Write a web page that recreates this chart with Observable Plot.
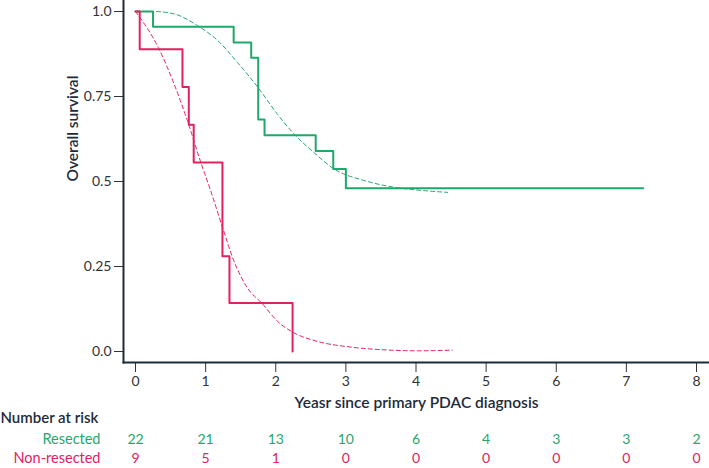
<!DOCTYPE html>
<html><head><meta charset="utf-8">
<script src="https://cdn.jsdelivr.net/npm/d3@7"></script>
<script src="https://cdn.jsdelivr.net/npm/@observablehq/plot@0.6"></script>
<style>body{margin:0;background:#fff}</style>
</head><body><div id="chart"></div>
<script>
// Kaplan-Meier steps (time in years, survival)
const resectedT = [0, 0.25, 1.40, 1.65, 1.75, 1.84, 2.57, 2.82, 3.00, 7.24];
const resectedS = [1.0, 0.955, 0.909, 0.864, 0.682, 0.636, 0.590, 0.537, 0.480, 0.480];
const nonResT = [0, 0.06, 0.67, 0.76, 0.83, 1.24, 1.34, 2.24];
const nonResS = [1.0, 0.889, 0.778, 0.667, 0.556, 0.280, 0.143, 0.0];
// Fitted (dashed) curves
const fitResT = [0, 0.26, 0.55, 0.88, 1.17, 1.45, 1.76, 2.02, 2.26, 2.54, 2.83, 3.26, 3.69, 4.07, 4.45];
const fitResS = [1.0, 1.0, 0.993, 0.959, 0.915, 0.851, 0.773, 0.699, 0.640, 0.586, 0.537, 0.503, 0.483, 0.474, 0.468];
const fitNonT = [0, 0.33, 0.55, 0.74, 0.93, 1.07, 1.24, 1.40, 1.59, 1.81, 2.04, 2.24, 2.59, 3.07, 3.54, 4.02, 4.52];
const fitNonS = [1.0, 0.892, 0.787, 0.679, 0.557, 0.474, 0.366, 0.268, 0.189, 0.140, 0.086, 0.057, 0.030, 0.013, 0.005, 0.002, 0.004];
// Axes and risk table
const years = [0, 1, 2, 3, 4, 5, 6, 7, 8];
const yTicks = [0, 0.25, 0.5, 0.75, 1];
const yTickLabels = ["0.0", "0.25", "0.5", "0.75", "1.0"];
const riskResected = [22, 21, 13, 10, 6, 4, 3, 3, 2];
const riskNonResected = [9, 5, 1, 0, 0, 0, 0, 0, 0];

const green = "#1fa86c", red = "#e0225f", ink = "#1d2b3a";
const zip = (T, S) => T.map((t, i) => ({t, s: S[i]}));

const chart = Plot.plot({
  width: 709, height: 468,
  marginTop: 0, marginLeft: 123, marginRight: 0, marginBottom: 106,
  x: {domain: [0, 8], insetLeft: 12, insetRight: 13},
  y: {domain: [0, 1], insetTop: 11, insetBottom: 11},
  style: {fontFamily: "Lato, sans-serif", fontSize: "14px", color: "#333", background: "#fff"},
  marks: [
    Plot.axisY({ticks: yTicks, tickFormat: d => yTickLabels[yTicks.indexOf(d)], tickSize: 9, tickPadding: 3, label: null, fontSize: 14}),
    Plot.axisX({ticks: years, tickSize: 10, tickPadding: 4, label: null, fontSize: 14}),
    Plot.frame({anchor: "left", stroke: ink, strokeWidth: 2}),
    Plot.frame({anchor: "bottom", stroke: ink, strokeWidth: 2}),
    Plot.line(zip(fitResT, fitResS), {x: "t", y: "s", stroke: green, strokeWidth: 1, strokeDasharray: "4,3", curve: "monotone-x"}),
    Plot.line(zip(fitNonT, fitNonS), {x: "t", y: "s", stroke: red, strokeWidth: 1, strokeDasharray: "4,3", curve: "monotone-x"}),
    Plot.line(zip(resectedT, resectedS), {x: "t", y: "s", stroke: green, strokeWidth: 2, curve: "step-after"}),
    Plot.line(zip(nonResT, nonResS), {x: "t", y: "s", stroke: red, strokeWidth: 2, curve: "step-after"}),
    Plot.text(["Overall survival"], {frameAnchor: "left", rotate: -90, dx: -50, fontWeight: 600, fontSize: 15.5, fill: ink}),
    Plot.text(["Yeasr since primary PDAC diagnosis"], {frameAnchor: "bottom", dy: 45, fontWeight: 600, fontSize: 15.5, fill: ink}),
    Plot.text(["Number at risk"], {frameAnchor: "bottom-left", dx: -123, dy: 60, textAnchor: "start", fontWeight: 600, fontSize: 15, fill: ink}),
    Plot.text(["Resected"], {frameAnchor: "bottom-left", dx: -23, dy: 81, textAnchor: "end", fontSize: 14.5, fill: green}),
    Plot.text(["Non-resected"], {frameAnchor: "bottom-left", dx: -23, dy: 100, textAnchor: "end", fontSize: 14.5, fill: red}),
    Plot.text(years, {x: d => d, text: (d, i) => String(riskResected[i]), frameAnchor: "bottom", dy: 81, fontSize: 14, fill: green}),
    Plot.text(years, {x: d => d, text: (d, i) => String(riskNonResected[i]), frameAnchor: "bottom", dy: 100, fontSize: 14, fill: red})
  ]
});
document.getElementById("chart").append(chart);
</script>
</body></html>
